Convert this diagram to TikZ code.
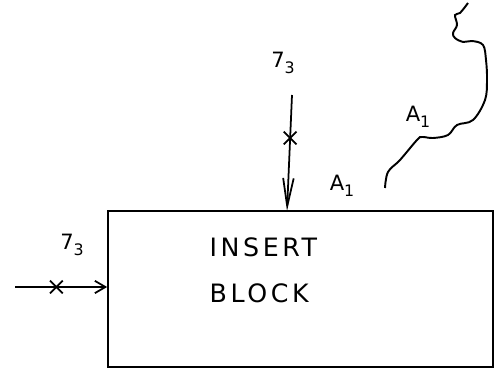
\documentclass[tikz,border=0pt]{standalone}
\usepackage{fontspec}
\newfontfamily\handfont[LetterSpace=14]{DejaVu Sans}
\newcommand{\sublbl}[2]{#1\raisebox{-0.55ex}{\small #2}}
\usetikzlibrary{arrows.meta,shapes.misc}
\begin{document}
\begin{tikzpicture}[x=0.02cm,y=-0.02cm,line width=1pt,
    blockbox/.style={draw,rectangle,minimum width=7.7cm,minimum height=3.12cm},
    crossmark/.style={draw,cross out,minimum size=0.22cm,inner sep=0pt,line width=1pt},
    flow/.style={-{Straight Barb[length=6pt,width=7pt]}},
    longflow/.style={-{Straight Barb[length=16pt,width=6pt]}},
    lbl/.style={font=\handfont\Large},
    tag/.style={font=\handfont\large,inner sep=1pt}]
    % Frame of the picture
    \useasboundingbox (0,0) rectangle (504,374);

    % The insert block
    \node[blockbox] (block) at (300.5,289) {};
    \node[lbl,anchor=west] (insert) at (203,247) {INSERT};
    \node[lbl,anchor=west] (blk) at (203,293) {BLOCK};

    % Arrow from above
    \coordinate (vtop) at (292,95);
    \coordinate (vend) at (287,211);
    \draw[longflow] (vtop) -- (vend)
        node[crossmark,pos=0.37] (vcross) {};
    \node[tag] (vlabel) at (283,63) {\sublbl{7}{3}};

    % Arrow from the left
    \coordinate (hstart) at (15,287);
    \draw[flow] (hstart) -- (hstart -| block.west)
        node[crossmark,pos=0.45] (hcross) {};
    \node[tag] (hlabel) at (72,245) {\sublbl{7}{3}};

    % Boundary of region A1
    \draw[line width=1.1pt] plot[smooth,tension=0.6] coordinates {
        (385,188) (388,172) (400,160) (417,140) (422,137) (433,138)
        (448,135) (457,125) (473,120) (485,100) (487,80) (486,60)
        (483,45) (472,41) (463,42) (455,38) (453,33) (457,25)
        (455,15) (460,13) (468,3)};
    \node[tag] (alabel) at (418,117) {\sublbl{A}{1}};
    \node[tag] (blabel) at (342,186) {\sublbl{A}{1}};
\end{tikzpicture}
\end{document}
